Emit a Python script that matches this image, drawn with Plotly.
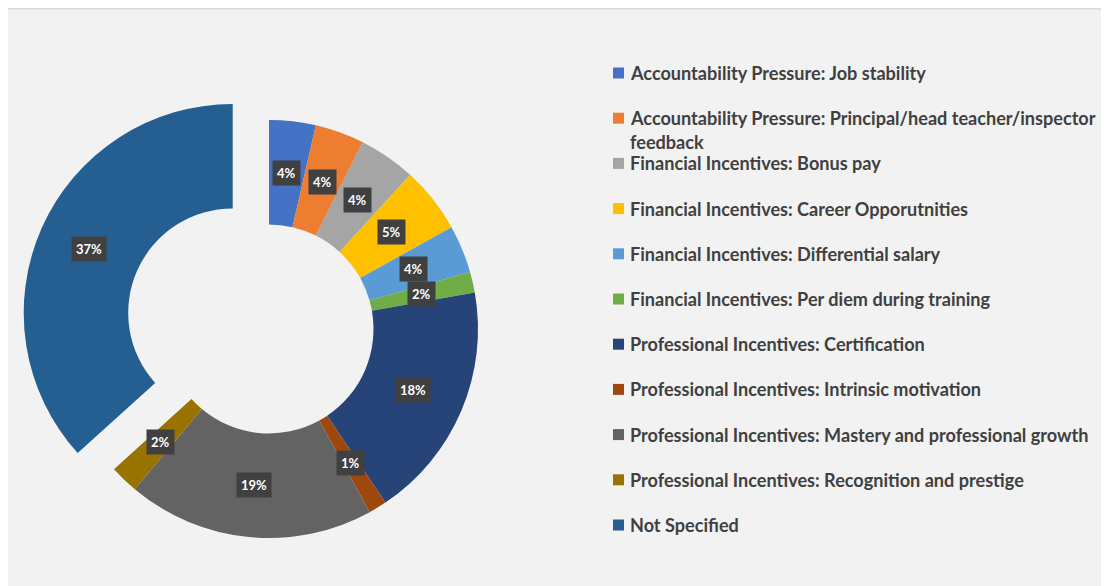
import math
import plotly.graph_objects as go

# dane (udzial procentowy)
labels = [
    "Accountability Pressure: Job stability",
    "Accountability Pressure: Principal/head teacher/inspector<br>feedback",
    "Financial Incentives: Bonus pay",
    "Financial Incentives: Career Opporutnities",
    "Financial Incentives: Differential salary",
    "Financial Incentives: Per diem during training",
    "Professional Incentives: Certification",
    "Professional Incentives: Intrinsic motivation",
    "Professional Incentives: Mastery and professional growth",
    "Professional Incentives: Recognition and prestige",
    "Not Specified",
]
values = [3.6, 3.8, 4.4, 5.1, 3.7, 1.6, 18.4, 1.4, 19.1, 2.2, 36.7]
colors = ["#4472C4", "#ED7D31", "#A5A5A5", "#FFC000", "#5B9BD5", "#70AD47",
          "#264478", "#9E480E", "#636363", "#997300", "#255E91"]
pulls = [0, 0, 0, 0, 0, 0, 0, 0, 0, 0, 0.19]

# strona ma margines 8px (body), wiec figura jest mniejsza i przesunieta
OFF = 8
W, H = 1109 - OFF, 586 - OFF
CX, CY, R = 269 - OFF, 329 - OFF, 209   # srodek i promien pierscienia
HOLE = 0.5
half = R * (1 + max(pulls))


def px2x(px):
    return px / W


def px2y(py):
    return 1 - py / H


fig = go.Figure(go.Pie(
    labels=labels,
    values=values,
    hole=HOLE,
    pull=pulls,
    sort=False,
    direction="clockwise",
    rotation=0,
    marker=dict(colors=colors, line=dict(width=0)),
    textinfo="none",
    showlegend=False,
    domain=dict(x=[px2x(CX - half), px2x(CX + half)],
                y=[px2y(CY + half), px2y(CY - half)]),
))

# etykiety procentowe w ciemnych ramkach
total = sum(values)
cum = 0
rm = R * (1 + HOLE) / 2
for v, p in zip(values, pulls):
    theta = math.radians(360 * (cum + v / 2) / total)
    cum += v
    px = CX + (rm + p * R) * math.sin(theta)
    py = CY - (rm + p * R) * math.cos(theta)
    fig.add_annotation(
        x=px2x(px), y=px2y(py), xref="paper", yref="paper",
        xanchor="center", yanchor="middle",
        text=f"{v / total:.0%}", showarrow=False,
        font=dict(family="Lato", size=13, color="white", weight="bold"),
        bgcolor="#404040", borderpad=4,
    )

# legenda zrobiona recznie (rowne odstepy jak w Excelu)
LX, LY, PITCH, SQ = 613 - OFF, 73 - OFF, 45.2, 11
for i, (lab, col) in enumerate(zip(labels, colors)):
    y = LY + i * PITCH
    fig.add_shape(type="rect", xref="paper", yref="paper",
                  x0=px2x(LX), x1=px2x(LX + SQ),
                  y0=px2y(y - SQ / 2), y1=px2y(y + SQ / 2),
                  fillcolor=col, line=dict(width=0))
    for j, line in enumerate(lab.split("<br>")):
        fig.add_annotation(
            x=px2x(LX + SQ + 4), y=px2y(y + j * 24),
            xref="paper", yref="paper", xanchor="left", yanchor="middle",
            text=line, showarrow=False,
            font=dict(family="Lato", size=18.1, color="#404040", weight="bold"),
        )

# gorna krawedz obszaru wykresu
fig.add_shape(type="line", xref="paper", yref="paper", layer="below",
              x0=0, x1=1, y0=1, y1=1,
              line=dict(color="#d9d9d9", width=3))

fig.update_layout(
    width=W, height=H,
    margin=dict(l=0, r=0, t=0, b=0),
    paper_bgcolor="#f2f2f2",
    plot_bgcolor="#f2f2f2",
)

fig.write_html("out.html")
